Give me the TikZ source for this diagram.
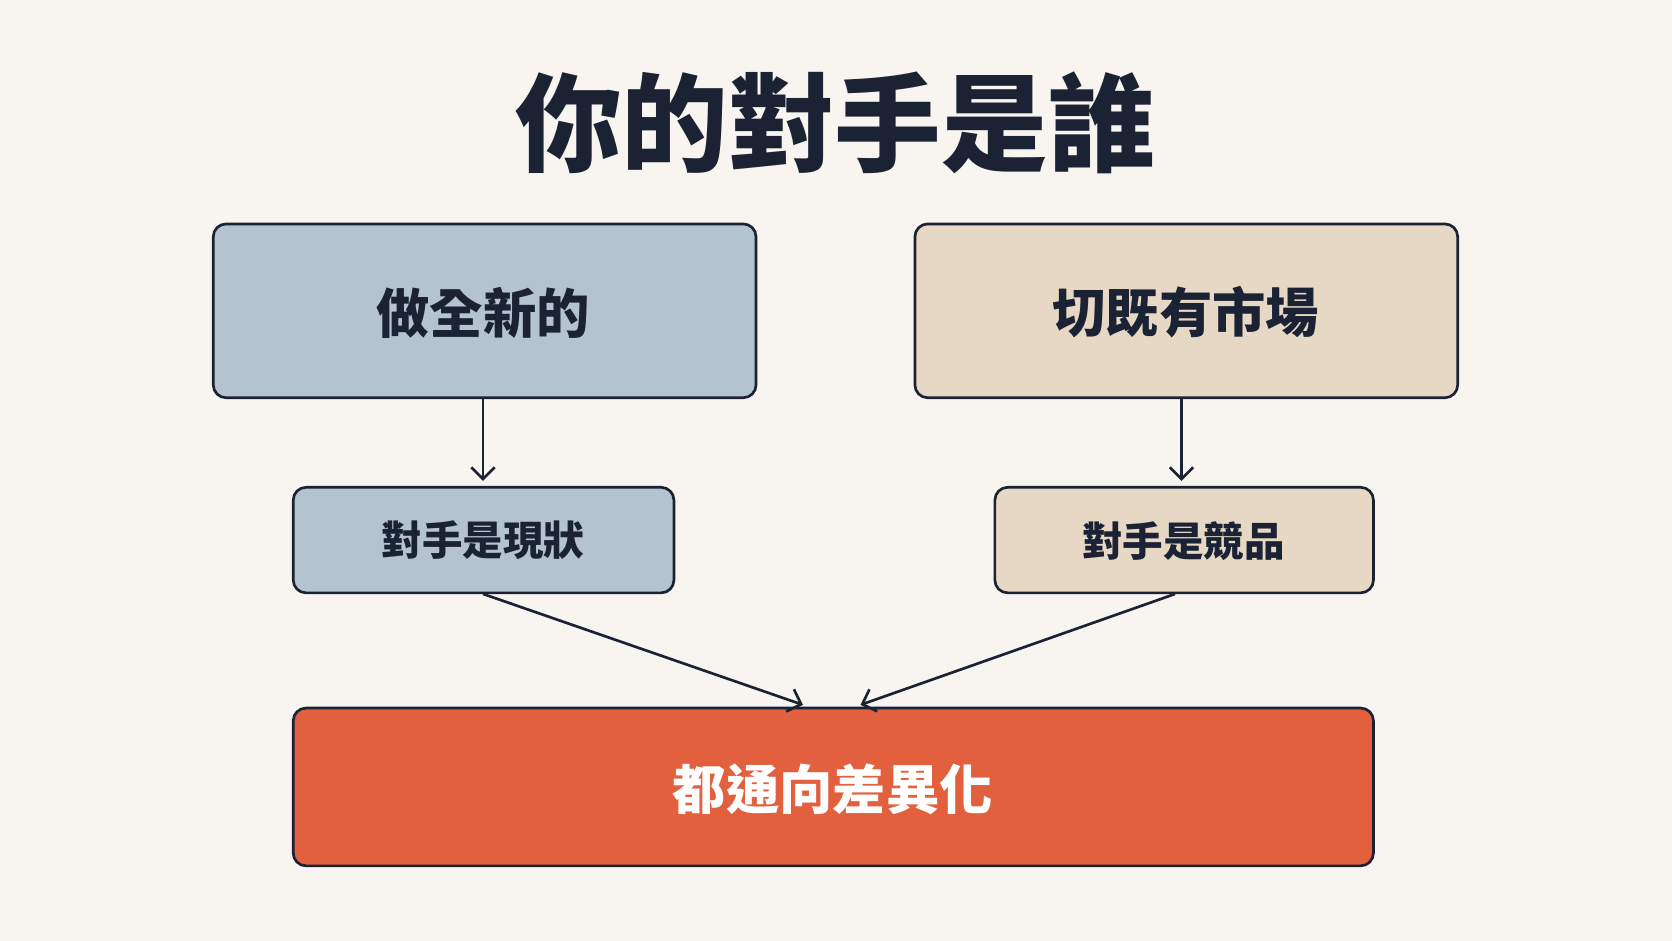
\documentclass[tikz,border=0pt]{standalone}
\usepackage{fontspec}
\newfontfamily\cjk{Noto Sans CJK TC}
\usetikzlibrary{arrows.meta}
\definecolor{bg}{HTML}{F8F5F0}
\definecolor{ink}{HTML}{1A2233}
\definecolor{blu}{HTML}{B3C3CF}
\definecolor{tan}{HTML}{E6D8C5}
\definecolor{org}{HTML}{E2603E}
\begin{document}
\begin{tikzpicture}[x=1pt,y=-1pt,
  box/.style={draw=ink,line width=2.5pt,rounded corners=12pt,inner sep=0pt},
  arr/.style={draw=ink,line width=2.5pt,-{Straight Barb[length=11pt,width=22pt,line width=2.5pt]}}]
\fill[bg] (0,0) rectangle (1568,882);
\useasboundingbox (0,0) rectangle (1568,882);
\node[text=ink,font=\cjk\bfseries\fontsize{100}{110}\selectfont] (t) at (783,115) {你的對手是誰};
\draw[box,fill=blu] (200,210) rectangle (709,373);
\node[text=ink,font=\cjk\bfseries\fontsize{50}{60}\selectfont] (a) at (453,293) {做全新的};
\coordinate (a1) at (453,373);
\draw[box,fill=tan] (858,210) rectangle (1367,373);
\node[text=ink,font=\cjk\bfseries\fontsize{50}{60}\selectfont] (b) at (1112,293) {切既有市場};
\coordinate (b1) at (1108,373);
\draw[box,fill=blu] (275,457) rectangle (632,556);
\node[text=ink,font=\cjk\bfseries\fontsize{38}{46}\selectfont] (c) at (453,507) {對手是現狀};
\draw[box,fill=tan] (933,457) rectangle (1288,556);
\node[text=ink,font=\cjk\bfseries\fontsize{38}{46}\selectfont] (d) at (1110,507) {對手是競品};
\draw[box,fill=org] (275,664) rectangle (1288,812);
\node[text=white,font=\cjk\bfseries\fontsize{50}{60}\selectfont] (e) at (781,740) {都通向差異化};
\coordinate (c0) at (453,451);
\coordinate (d0) at (1108,451);
\coordinate (c1) at (453,557);
\coordinate (d1) at (1102,557);
\coordinate (e1) at (753,661);
\coordinate (e2) at (807,661);
\draw[arr] (a1) -- (c0);
\draw[arr] (b1) -- (d0);
\draw[arr] (c1) -- (e1);
\draw[arr] (d1) -- (e2);
\end{tikzpicture}
\end{document}
